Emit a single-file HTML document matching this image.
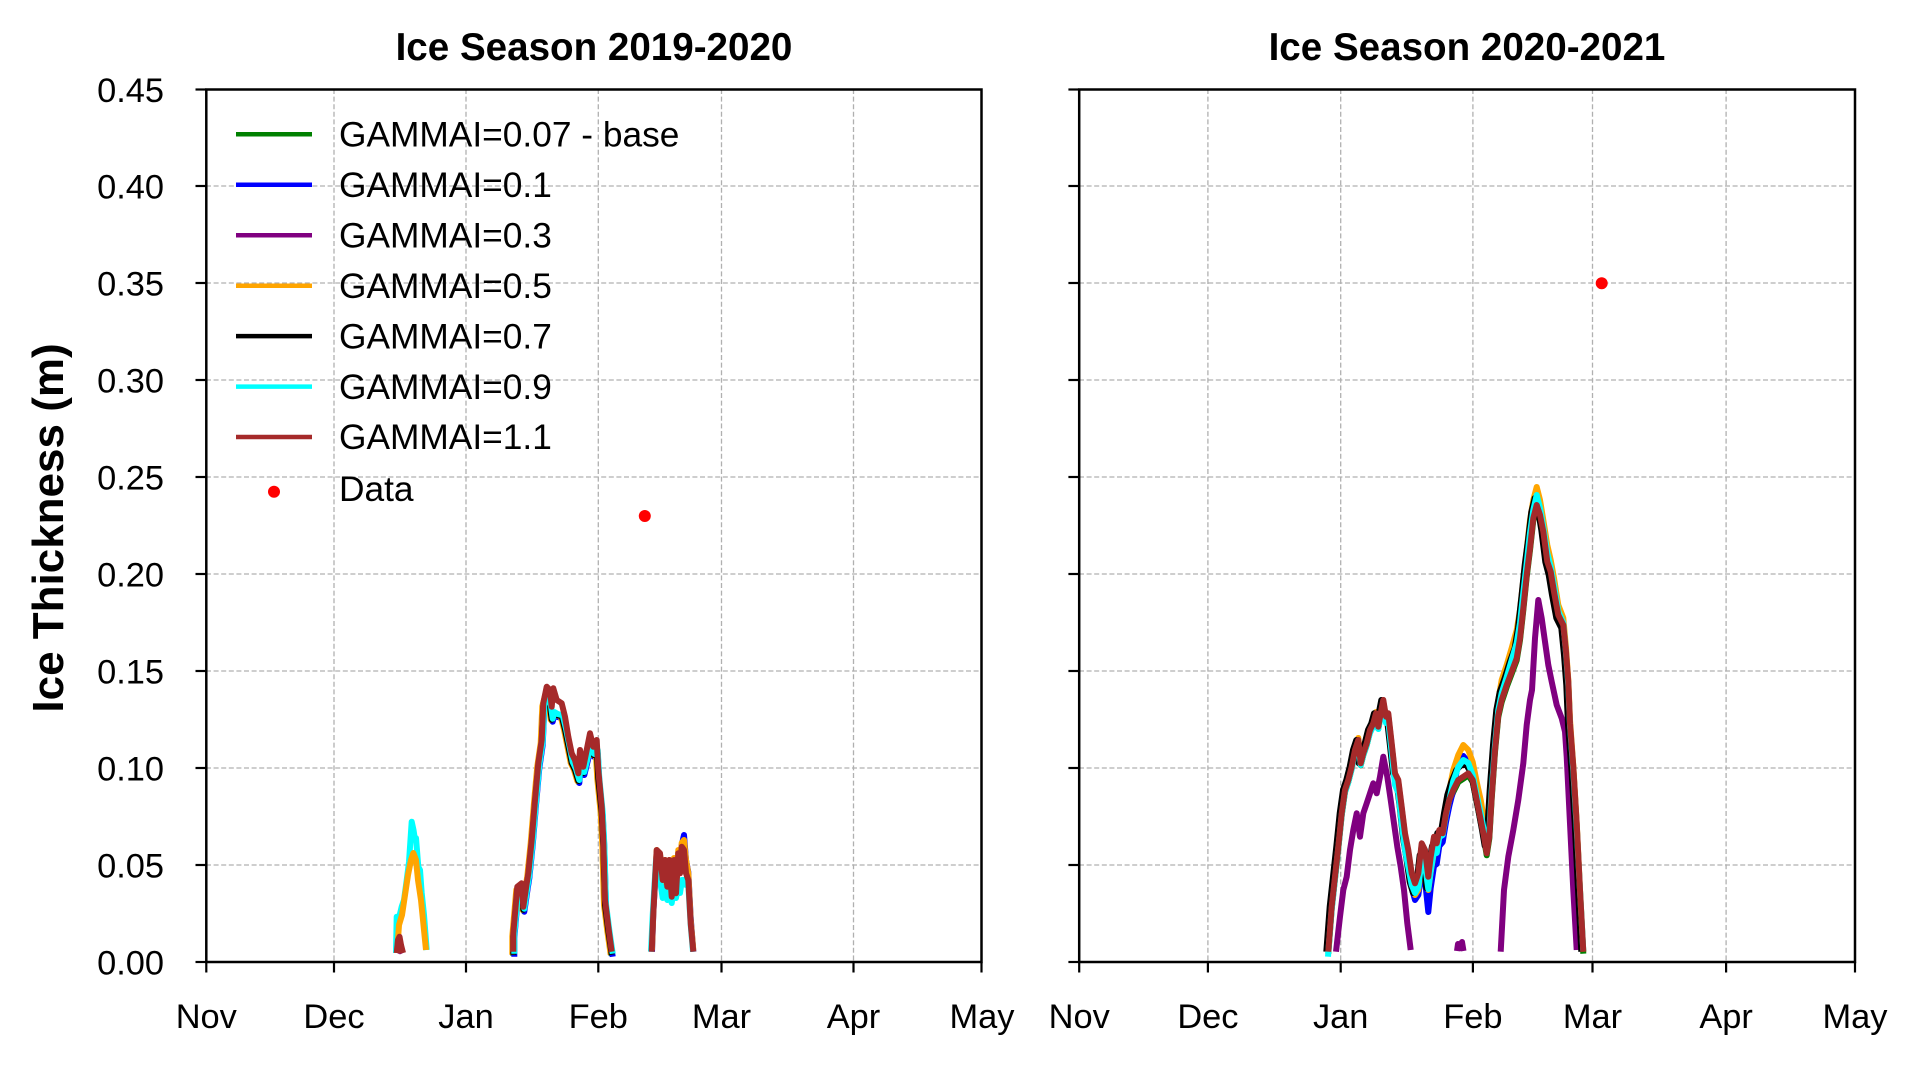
<!DOCTYPE html>
<html>
<head>
<meta charset="utf-8">
<style>
  html,body{margin:0;padding:0;background:#fff;}
  svg{display:block;}
  text{font-family:"Liberation Sans",Arial,sans-serif;fill:#000;}
</style>
</head>
<body>
<svg width="1920" height="1067" viewBox="0 0 1920 1067" xmlns="http://www.w3.org/2000/svg">
  <rect x="0" y="0" width="1920" height="1067" fill="#fff"/>

  <!-- Titles -->
  <text x="594" y="60" font-size="38.6" font-weight="bold" text-anchor="middle">Ice Season 2019-2020</text>
  <text x="1467" y="60" font-size="38.6" font-weight="bold" text-anchor="middle">Ice Season 2020-2021</text>

  <!-- Y label -->
  <text transform="translate(63,528) rotate(-90)" font-size="44" font-weight="bold" text-anchor="middle">Ice Thickness (m)</text>

  <!-- Grid left -->
  <g stroke="#b0b0b0" stroke-width="1.3" stroke-dasharray="5,2.6" fill="none">
    <line x1="334" y1="89" x2="334" y2="962"/>
    <line x1="466" y1="89" x2="466" y2="962"/>
    <line x1="598.3" y1="89" x2="598.3" y2="962"/>
    <line x1="721.5" y1="89" x2="721.5" y2="962"/>
    <line x1="853.5" y1="89" x2="853.5" y2="962"/>
    <line x1="206" y1="186" x2="981" y2="186"/>
    <line x1="206" y1="283" x2="981" y2="283"/>
    <line x1="206" y1="380" x2="981" y2="380"/>
    <line x1="206" y1="477" x2="981" y2="477"/>
    <line x1="206" y1="574" x2="981" y2="574"/>
    <line x1="206" y1="671" x2="981" y2="671"/>
    <line x1="206" y1="768" x2="981" y2="768"/>
    <line x1="206" y1="865" x2="981" y2="865"/>
  </g>
  <!-- Grid right -->
  <g stroke="#b0b0b0" stroke-width="1.3" stroke-dasharray="5,2.6" fill="none">
    <line x1="1207.9" y1="89" x2="1207.9" y2="962"/>
    <line x1="1340.7" y1="89" x2="1340.7" y2="962"/>
    <line x1="1472.9" y1="89" x2="1472.9" y2="962"/>
    <line x1="1592.5" y1="89" x2="1592.5" y2="962"/>
    <line x1="1726.1" y1="89" x2="1726.1" y2="962"/>
    <line x1="1079" y1="186" x2="1855" y2="186"/>
    <line x1="1079" y1="283" x2="1855" y2="283"/>
    <line x1="1079" y1="380" x2="1855" y2="380"/>
    <line x1="1079" y1="477" x2="1855" y2="477"/>
    <line x1="1079" y1="574" x2="1855" y2="574"/>
    <line x1="1079" y1="671" x2="1855" y2="671"/>
    <line x1="1079" y1="768" x2="1855" y2="768"/>
    <line x1="1079" y1="865" x2="1855" y2="865"/>
  </g>

  <!-- LEFT PANEL CURVES -->
  <g fill="none" stroke-width="6" stroke-linejoin="round" stroke-linecap="butt">
    <path stroke="#800080" d="M397,953 L400,947 L403,953"/>
    <path stroke="#00ffff" d="M396,953 L396.7,916.7 L399,918 L401.7,906.7 L404,900 L406.7,880 L409,862 L411.7,821.7 L413.5,830 L415,840 L416,838 L418.3,866.7 L420,870 L421.7,893 L424,915 L426.7,950"/>
    <path stroke="#ffa500" d="M397,953 L399,925 L402,915 L405,895 L408,875 L411,860 L413.3,853 L416,860 L418,880 L421,900 L424,930 L426,950"/>
    <path stroke="#a52a2a" d="M396.7,953 L398,940 L399.5,936.7 L401,945 L403,953"/>

    <path stroke="#008000" transform="translate(0,4)" d="M513.3,951.7 L513.3,933.3 L517.3,886.7 L521.7,883.3 L523.3,906.7 L526.7,883.3 L528.3,873.3 L531.7,840 L535,800 L538.3,763.3 L541.7,740 L543.3,703.3 L546.7,690 L550,704 L551.7,716.7 L553.3,710 L556.7,712 L561.7,713.3 L565,726.7 L568.3,743 L571.7,760 L575,767 L578.3,778 L580,757 L583.3,770 L586.7,756 L590,742 L593.3,752 L596.7,748 L598.3,776 L601.7,810 L603.3,842 L605,902 L608.3,928 L611.7,951.7"/>
    <path stroke="#0000ff" transform="translate(1,5)" d="M513.3,951.7 L513.3,933.3 L517.3,886.7 L521.7,883.3 L523.3,906.7 L526.7,883.3 L528.3,873.3 L531.7,840 L535,800 L538.3,763.3 L541.7,740 L543.3,703.3 L546.7,690 L550,704 L551.7,716.7 L553.3,710 L556.7,712 L561.7,713.3 L565,726.7 L568.3,743 L571.7,760 L575,767 L578.3,778 L580,757 L583.3,770 L586.7,756 L590,742 L593.3,752 L596.7,748 L598.3,776 L601.7,810 L603.3,842 L605,902 L608.3,928 L611.7,951.7"/>
    <path stroke="#ffa500" transform="translate(-1,3)" d="M513.3,951.7 L513.3,933.3 L517.3,886.7 L521.7,883.3 L523.3,906.7 L526.7,883.3 L528.3,873.3 L531.7,840 L535,800 L538.3,763.3 L541.7,740 L543.3,703.3 L546.7,690 L550,704 L551.7,716.7 L553.3,710 L556.7,712 L561.7,713.3 L565,726.7 L568.3,743 L571.7,760 L575,767 L578.3,778 L580,757 L583.3,770 L586.7,756 L590,742 L593.3,752 L596.7,748 L598.3,776 L601.7,810 L603.3,842 L605,902 L608.3,928 L611.7,951.7"/>
    <path stroke="#000000" transform="translate(0,3)" d="M513.3,951.7 L513.3,933.3 L517.3,886.7 L521.7,883.3 L523.3,906.7 L526.7,883.3 L528.3,873.3 L531.7,840 L535,800 L538.3,763.3 L541.7,740 L543.3,703.3 L546.7,690 L550,704 L551.7,716.7 L553.3,710 L556.7,712 L561.7,713.3 L565,726.7 L568.3,743 L571.7,760 L575,767 L578.3,778 L580,757 L583.3,770 L586.7,756 L590,742 L593.3,752 L596.7,748 L598.3,776 L601.7,810 L603.3,842 L605,902 L608.3,928 L611.7,951.7"/>
    <path stroke="#00ffff" transform="translate(1,2)" d="M513.3,951.7 L513.3,933.3 L517.3,886.7 L521.7,883.3 L523.3,906.7 L526.7,883.3 L528.3,873.3 L531.7,840 L535,800 L538.3,763.3 L541.7,740 L543.3,703.3 L546.7,690 L550,704 L551.7,716.7 L553.3,710 L556.7,712 L561.7,713.3 L565,726.7 L568.3,743 L571.7,760 L575,767 L578.3,778 L580,757 L583.3,770 L586.7,756 L590,742 L593.3,752 L596.7,748 L598.3,776 L601.7,810 L603.3,842 L605,902 L608.3,928 L611.7,951.7"/>
    <path stroke="#a52a2a" d="M513.3,951.7 L513.3,933.3 L517.3,886.7 L521.7,883.3 L523.3,906.7 L526.7,883.3 L528.3,873.3 L531.7,840 L535,800 L538.3,763.3 L541.7,740 L543.3,703.3 L546.7,686.7 L550,690 L551.7,706.7 L553.3,688.3 L556.7,700 L561.7,703.3 L565,716.7 L568.3,736.7 L571.7,753.3 L575,760 L578.3,773.3 L580,750 L583.3,766.7 L586.7,750 L590,733.3 L593.3,746.7 L596.7,740 L598.3,770 L601.7,806.7 L603.3,840 L605,900 L608.3,926.7 L611.7,951.7"/>

    <path stroke="#0000ff" d="M652,951.7 L653.3,913 L656.7,852 L660,856 L662.7,884 L665,862 L667.3,890 L669.3,862 L671.7,898 L674,860 L676,894 L678.3,852 L680,872 L681.7,845 L684,835 L686,860 L688.3,872 L690.7,918 L693.3,951.7"/>
    <path stroke="#ffa500" transform="translate(0,-2)" d="M652,951.7 L653.3,913 L656.7,852 L660,856 L662.7,884 L665,862 L667.3,890 L669.3,862 L671.7,898 L674,860 L676,894 L678.3,852 L680,872 L681.7,845 L684,842 L686,862 L688.3,875 L690.7,922 L693.3,951.7"/>
    <path stroke="#00ffff" d="M651,951.7 L652.7,915 L656,860 L660,880 L662.7,898 L665,888 L667.3,900 L669.3,885 L671.7,903 L674,888 L676,898 L678.3,885 L680,893 L682,880 L684,880 L686,885 L688.3,885 L690.7,925 L693,951.7"/>
    <path stroke="#a52a2a" d="M651.7,951.7 L653.3,913.3 L656.7,850 L660,853.3 L662.7,880 L665,860 L667.3,886.7 L669.3,860 L671.7,896.7 L674,860 L676,893.3 L678.3,853.3 L680,873.3 L681.7,846.7 L684,850 L686,873.3 L688.3,880 L690.7,923.3 L693.3,951.7"/>
  </g>

  <!-- RIGHT PANEL CURVES -->
  <g fill="none" stroke-width="6" stroke-linejoin="round" stroke-linecap="butt">
    <path stroke="#800080" d="M1336,951.7 L1340,916.7 L1343.3,890 L1346.7,876.7 L1350,850 L1353.3,830 L1356.7,813.3 L1360,836.7 L1363.3,813.3 L1366.7,803.3 L1370,793.3 L1373.3,783.3 L1376.7,793.3 L1380,776.7 L1383.3,756.7 L1387.3,776.7 L1390.7,800 L1394,823.3 L1397.3,846.7 L1400.7,866.7 L1404,890 L1407.3,923.3 L1410.7,950"/>
    <path stroke="#800080" d="M1457,951 L1458,944 L1460,948 L1462,942 L1463.5,951"/>
    <path stroke="#800080" d="M1500.7,951.7 L1504,890 L1508.3,856.7 L1513.3,830 L1518.3,800 L1523.3,763.3 L1526.7,725 L1530,700 L1532,690 L1535,638.3 L1538.3,600 L1541.7,618.3 L1545,641.7 L1548.3,665 L1551.7,681.7 L1556.7,705 L1561.7,718.3 L1565,731.7 L1566.7,756.7 L1570,823.3 L1573.3,890 L1576.7,950"/>

    <path stroke="#008000" transform="translate(0,2)" d="M1328.3,951.7 L1331.7,906.7 L1335,876.7 L1338.3,846.7 L1341.7,813.3 L1345,790 L1348.3,780 L1351.7,766.7 L1355,750 L1358.3,740 L1360.7,763.3 L1363.3,753.3 L1366.7,743.3 L1370,730 L1373.3,723.3 L1376,713.3 L1378.3,726.7 L1380.7,713.3 L1383.3,700 L1386,716.7 L1388.3,713.3 L1391.7,743.3 L1395,773.3 L1398.3,780 L1401.7,806.7 L1405,833.3 L1408.3,850 L1411.7,873.3 L1415,883.3 L1418.3,873.3 L1421.7,843.3 L1425,850 L1428.3,876.7 L1430.7,856.7 L1434,836.7 L1436.7,843.3 L1439.3,830 L1442.7,833.3 L1446,813.3 L1449.3,800 L1453.3,790 L1458.3,780 L1463.3,776.7 L1468.3,773.3 L1472.7,780 L1476.7,800 L1480.7,820 L1484,836.7 L1486.7,853.3 L1489.3,836.7 L1491.7,796.7 L1495,750 L1498.3,715 L1501.7,700 L1506.7,685 L1511.7,671.7 L1516.7,658.3 L1520,638.3 L1523.3,608.3 L1526.7,575 L1530,548.3 L1533.3,518.3 L1536.7,505 L1540,515 L1543.3,531.7 L1547.3,561.7 L1550.7,571.7 L1554,591.7 L1558.3,615 L1563.3,625 L1566,651.7 L1568.3,681.7 L1570,723.3 L1573.3,766.7 L1576.7,823.3 L1580,890 L1583.3,951.7"/>
    <path stroke="#0000ff" d="M1405,840 L1408.3,862 L1411.7,888 L1415,900 L1418.3,895 L1421.7,872 L1425,880 L1428.3,912 L1430.7,888 L1434,866 L1436.7,864 L1439.3,846 L1442.7,842 L1446,822 L1449.3,806 L1453.3,790 L1458.3,762 L1463.3,756 L1468.3,762"/>
    <path stroke="#ffa500" d="M1328,951.7 L1331.7,904 L1335,874 L1338.3,843 L1341.7,810 L1345,787 L1348.3,777 L1351.7,764 L1355,747 L1358.3,738 L1360.7,760 L1363.3,750 L1366.7,740 L1370,728 L1373.3,721 L1376,712 L1378.3,724 L1380.7,712 L1383.3,702 L1386,718 L1388.3,716 L1391.7,748 L1395,780 L1398.3,788 L1401.7,818 L1405,848 L1408.3,868 L1411.7,888 L1415,895 L1418.3,890 L1421.7,862 L1425,866 L1428.3,890 L1430.7,872 L1434,852 L1436.7,852 L1439.3,835 L1442.7,830 L1446,808 L1449.3,790 L1453.3,770 L1458.3,755 L1463.3,745 L1468.3,750 L1472.7,762 L1476.7,782 L1480.7,800 L1484,820 L1486.7,838 L1489.3,820 L1491.7,780 L1495,735 L1498.3,700 L1501.7,680 L1506.7,665 L1511.7,648 L1516.7,630 L1520,610 L1523.3,580 L1526.7,550 L1530,520 L1533.3,500 L1536.7,487 L1540,500 L1543.3,520 L1547.3,545 L1550.7,560 L1554,578 L1558.3,605 L1563.3,618 L1566,648 L1568.3,680 L1570,720 L1573.3,766 L1576.7,823 L1580,890 L1583.3,951.7"/>
    <path stroke="#000000" transform="translate(-2,0)" d="M1328.3,951.7 L1331.7,906.7 L1335,876.7 L1338.3,846.7 L1341.7,813.3 L1345,790 L1348.3,780 L1351.7,766.7 L1355,750 L1358.3,740 L1360.7,763.3 L1363.3,753.3 L1366.7,743.3 L1370,730 L1373.3,723.3 L1376,713.3 L1378.3,726.7 L1380.7,713.3 L1383.3,700 L1386,716.7 L1388.3,713.3 L1391.7,743.3 L1395,773.3 L1398.3,780 L1401.7,806.7 L1405,838 L1408.3,858 L1411.7,882 L1415,893 L1418.3,885 L1421.7,855 L1425,862 L1428.3,888 L1430.7,866 L1434,846 L1436.7,850 L1439.3,833 L1442.7,833.3 L1446,813.3 L1449.3,795 L1453.3,782 L1458.3,770 L1463.3,765 L1468.3,765 L1472.7,772 L1476.7,792 L1480.7,812 L1484,830 L1486.7,846 L1489.3,830 L1491.7,790 L1495,745 L1498.3,710 L1501.7,692 L1506.7,678 L1511.7,662 L1516.7,648 L1520,628 L1523.3,598 L1526.7,565 L1530,540 L1533.3,512 L1536.7,498 L1540,510 L1543.3,530 L1547.3,562 L1550.7,575 L1554,595 L1558.3,618 L1563.3,628 L1566,655 L1568.3,685 L1570,725 L1573.3,768 L1576.7,823.3 L1580,890 L1583.3,951.7"/>
    <path stroke="#00ffff" transform="translate(0,5)" d="M1328,951.7 L1331.7,904 L1335,874 L1338.3,843 L1341.7,810 L1345,787 L1348.3,777 L1351.7,764 L1355,747 L1358.3,738 L1360.7,760 L1363.3,750 L1366.7,740 L1370,728 L1373.3,721 L1376,712 L1378.3,724 L1380.7,712 L1383.3,702 L1386,718 L1388.3,716 L1391.7,748 L1395,780 L1398.3,788 L1401.7,818 L1405,845 L1408.3,862 L1411.7,880 L1415,888 L1418.3,882 L1421.7,855 L1425,860 L1428.3,884 L1430.7,866 L1434,846 L1436.7,848 L1439.3,832 L1442.7,830 L1446,810 L1449.3,795 L1453.3,776 L1458.3,762 L1463.3,755 L1468.3,758 L1472.7,770 L1476.7,790 L1480.7,808 L1484,826 L1486.7,843 L1489.3,826 L1491.7,785 L1495,740 L1498.3,705 L1501.7,688 L1506.7,672 L1511.7,655 L1516.7,638 L1520,618 L1523.3,588 L1526.7,558 L1530,528 L1533.3,505 L1536.7,490 L1540,503 L1543.3,522 L1547.3,548 L1550.7,562 L1554,580 L1558.3,606 L1563.3,618 L1566,648 L1568.3,680 L1570,720 L1573.3,766 L1576.7,823 L1580,885 L1583.3,946"/>
    <path stroke="#a52a2a" d="M1328.3,951.7 L1331.7,906.7 L1335,876.7 L1338.3,846.7 L1341.7,813.3 L1345,790 L1348.3,780 L1351.7,766.7 L1355,750 L1358.3,740 L1360.7,763.3 L1363.3,753.3 L1366.7,743.3 L1370,730 L1373.3,723.3 L1376,713.3 L1378.3,726.7 L1380.7,713.3 L1383.3,700 L1386,716.7 L1388.3,713.3 L1391.7,743.3 L1395,773.3 L1398.3,780 L1401.7,806.7 L1405,833.3 L1408.3,850 L1411.7,873.3 L1415,883.3 L1418.3,873.3 L1421.7,843.3 L1425,850 L1428.3,876.7 L1430.7,856.7 L1434,836.7 L1436.7,843.3 L1439.3,830 L1442.7,833.3 L1446,813.3 L1449.3,800 L1453.3,790 L1458.3,780 L1463.3,776.7 L1468.3,773.3 L1472.7,780 L1476.7,800 L1480.7,820 L1484,836.7 L1486.7,853.3 L1489.3,836.7 L1491.7,796.7 L1495,750 L1498.3,715 L1501.7,700 L1506.7,685 L1511.7,671.7 L1516.7,658.3 L1520,638.3 L1523.3,608.3 L1526.7,575 L1530,548.3 L1533.3,518.3 L1536.7,505 L1540,515 L1543.3,531.7 L1547.3,561.7 L1550.7,571.7 L1554,591.7 L1558.3,615 L1563.3,625 L1566,651.7 L1568.3,681.7 L1570,723.3 L1573.3,766.7 L1576.7,823.3 L1580,890 L1583.3,951.7"/>
  </g>

  <!-- Data points -->
  <circle cx="644.8" cy="516" r="6" fill="#ff0000"/>
  <circle cx="1601.7" cy="283.3" r="6" fill="#ff0000"/>

  <!-- Spines -->
  <g fill="none" stroke="#000" stroke-width="2.5">
    <rect x="206.3" y="89.5" width="775.2" height="872.5"/>
    <rect x="1079.2" y="89.5" width="775.8" height="872.5"/>
  </g>

  <!-- Y ticks -->
  <g stroke="#000" stroke-width="2.2">
    <line x1="195.5" y1="89.5" x2="206.3" y2="89.5"/>
    <line x1="195.5" y1="186" x2="206.3" y2="186"/>
    <line x1="195.5" y1="283" x2="206.3" y2="283"/>
    <line x1="195.5" y1="380" x2="206.3" y2="380"/>
    <line x1="195.5" y1="477" x2="206.3" y2="477"/>
    <line x1="195.5" y1="574" x2="206.3" y2="574"/>
    <line x1="195.5" y1="671" x2="206.3" y2="671"/>
    <line x1="195.5" y1="768" x2="206.3" y2="768"/>
    <line x1="195.5" y1="865" x2="206.3" y2="865"/>
    <line x1="195.5" y1="962" x2="206.3" y2="962"/>

    <line x1="1068.4" y1="89.5" x2="1079.2" y2="89.5"/>
    <line x1="1068.4" y1="186" x2="1079.2" y2="186"/>
    <line x1="1068.4" y1="283" x2="1079.2" y2="283"/>
    <line x1="1068.4" y1="380" x2="1079.2" y2="380"/>
    <line x1="1068.4" y1="477" x2="1079.2" y2="477"/>
    <line x1="1068.4" y1="574" x2="1079.2" y2="574"/>
    <line x1="1068.4" y1="671" x2="1079.2" y2="671"/>
    <line x1="1068.4" y1="768" x2="1079.2" y2="768"/>
    <line x1="1068.4" y1="865" x2="1079.2" y2="865"/>
    <line x1="1068.4" y1="962" x2="1079.2" y2="962"/>
  </g>
  <!-- X ticks -->
  <g stroke="#000" stroke-width="2.2">
    <line x1="206.3" y1="962" x2="206.3" y2="972.5"/>
    <line x1="334" y1="962" x2="334" y2="972.5"/>
    <line x1="466" y1="962" x2="466" y2="972.5"/>
    <line x1="598.3" y1="962" x2="598.3" y2="972.5"/>
    <line x1="721.5" y1="962" x2="721.5" y2="972.5"/>
    <line x1="853.5" y1="962" x2="853.5" y2="972.5"/>
    <line x1="981.5" y1="962" x2="981.5" y2="972.5"/>

    <line x1="1079.2" y1="962" x2="1079.2" y2="972.5"/>
    <line x1="1207.9" y1="962" x2="1207.9" y2="972.5"/>
    <line x1="1340.7" y1="962" x2="1340.7" y2="972.5"/>
    <line x1="1472.9" y1="962" x2="1472.9" y2="972.5"/>
    <line x1="1592.5" y1="962" x2="1592.5" y2="972.5"/>
    <line x1="1726.1" y1="962" x2="1726.1" y2="972.5"/>
    <line x1="1855" y1="962" x2="1855" y2="972.5"/>
  </g>

  <!-- Y tick labels -->
  <g font-size="34.4" text-anchor="end">
    <text x="164" y="102">0.45</text>
    <text x="164" y="198.5">0.40</text>
    <text x="164" y="295.5">0.35</text>
    <text x="164" y="392.5">0.30</text>
    <text x="164" y="489.5">0.25</text>
    <text x="164" y="586.5">0.20</text>
    <text x="164" y="683.5">0.15</text>
    <text x="164" y="780.5">0.10</text>
    <text x="164" y="877.5">0.05</text>
    <text x="164" y="974.5">0.00</text>
  </g>

  <!-- X tick labels -->
  <g font-size="34.4" text-anchor="middle">
    <text x="206.3" y="1028">Nov</text>
    <text x="334" y="1028">Dec</text>
    <text x="466" y="1028">Jan</text>
    <text x="598.3" y="1028">Feb</text>
    <text x="721.5" y="1028">Mar</text>
    <text x="853.5" y="1028">Apr</text>
    <text x="982" y="1028">May</text>

    <text x="1079.2" y="1028">Nov</text>
    <text x="1207.9" y="1028">Dec</text>
    <text x="1340.7" y="1028">Jan</text>
    <text x="1472.9" y="1028">Feb</text>
    <text x="1592.5" y="1028">Mar</text>
    <text x="1726.1" y="1028">Apr</text>
    <text x="1855" y="1028">May</text>
  </g>

  <!-- Legend -->
  <g stroke-width="4.5" fill="none">
    <line x1="236" y1="134.3" x2="312" y2="134.3" stroke="#008000"/>
    <line x1="236" y1="184.8" x2="312" y2="184.8" stroke="#0000ff"/>
    <line x1="236" y1="235.2" x2="312" y2="235.2" stroke="#800080"/>
    <line x1="236" y1="285.7" x2="312" y2="285.7" stroke="#ffa500"/>
    <line x1="236" y1="336.1" x2="312" y2="336.1" stroke="#000000"/>
    <line x1="236" y1="386.6" x2="312" y2="386.6" stroke="#00ffff"/>
    <line x1="236" y1="437" x2="312" y2="437" stroke="#a52a2a"/>
  </g>
  <circle cx="274" cy="491.7" r="6" fill="#ff0000"/>
  <g font-size="35.3">
    <text x="339" y="146.5">GAMMAI=0.07 - base</text>
    <text x="339" y="197">GAMMAI=0.1</text>
    <text x="339" y="247.4">GAMMAI=0.3</text>
    <text x="339" y="297.9">GAMMAI=0.5</text>
    <text x="339" y="348.3">GAMMAI=0.7</text>
    <text x="339" y="398.8">GAMMAI=0.9</text>
    <text x="339" y="449.2">GAMMAI=1.1</text>
    <text x="339" y="501">Data</text>
  </g>
</svg>
</body>
</html>
